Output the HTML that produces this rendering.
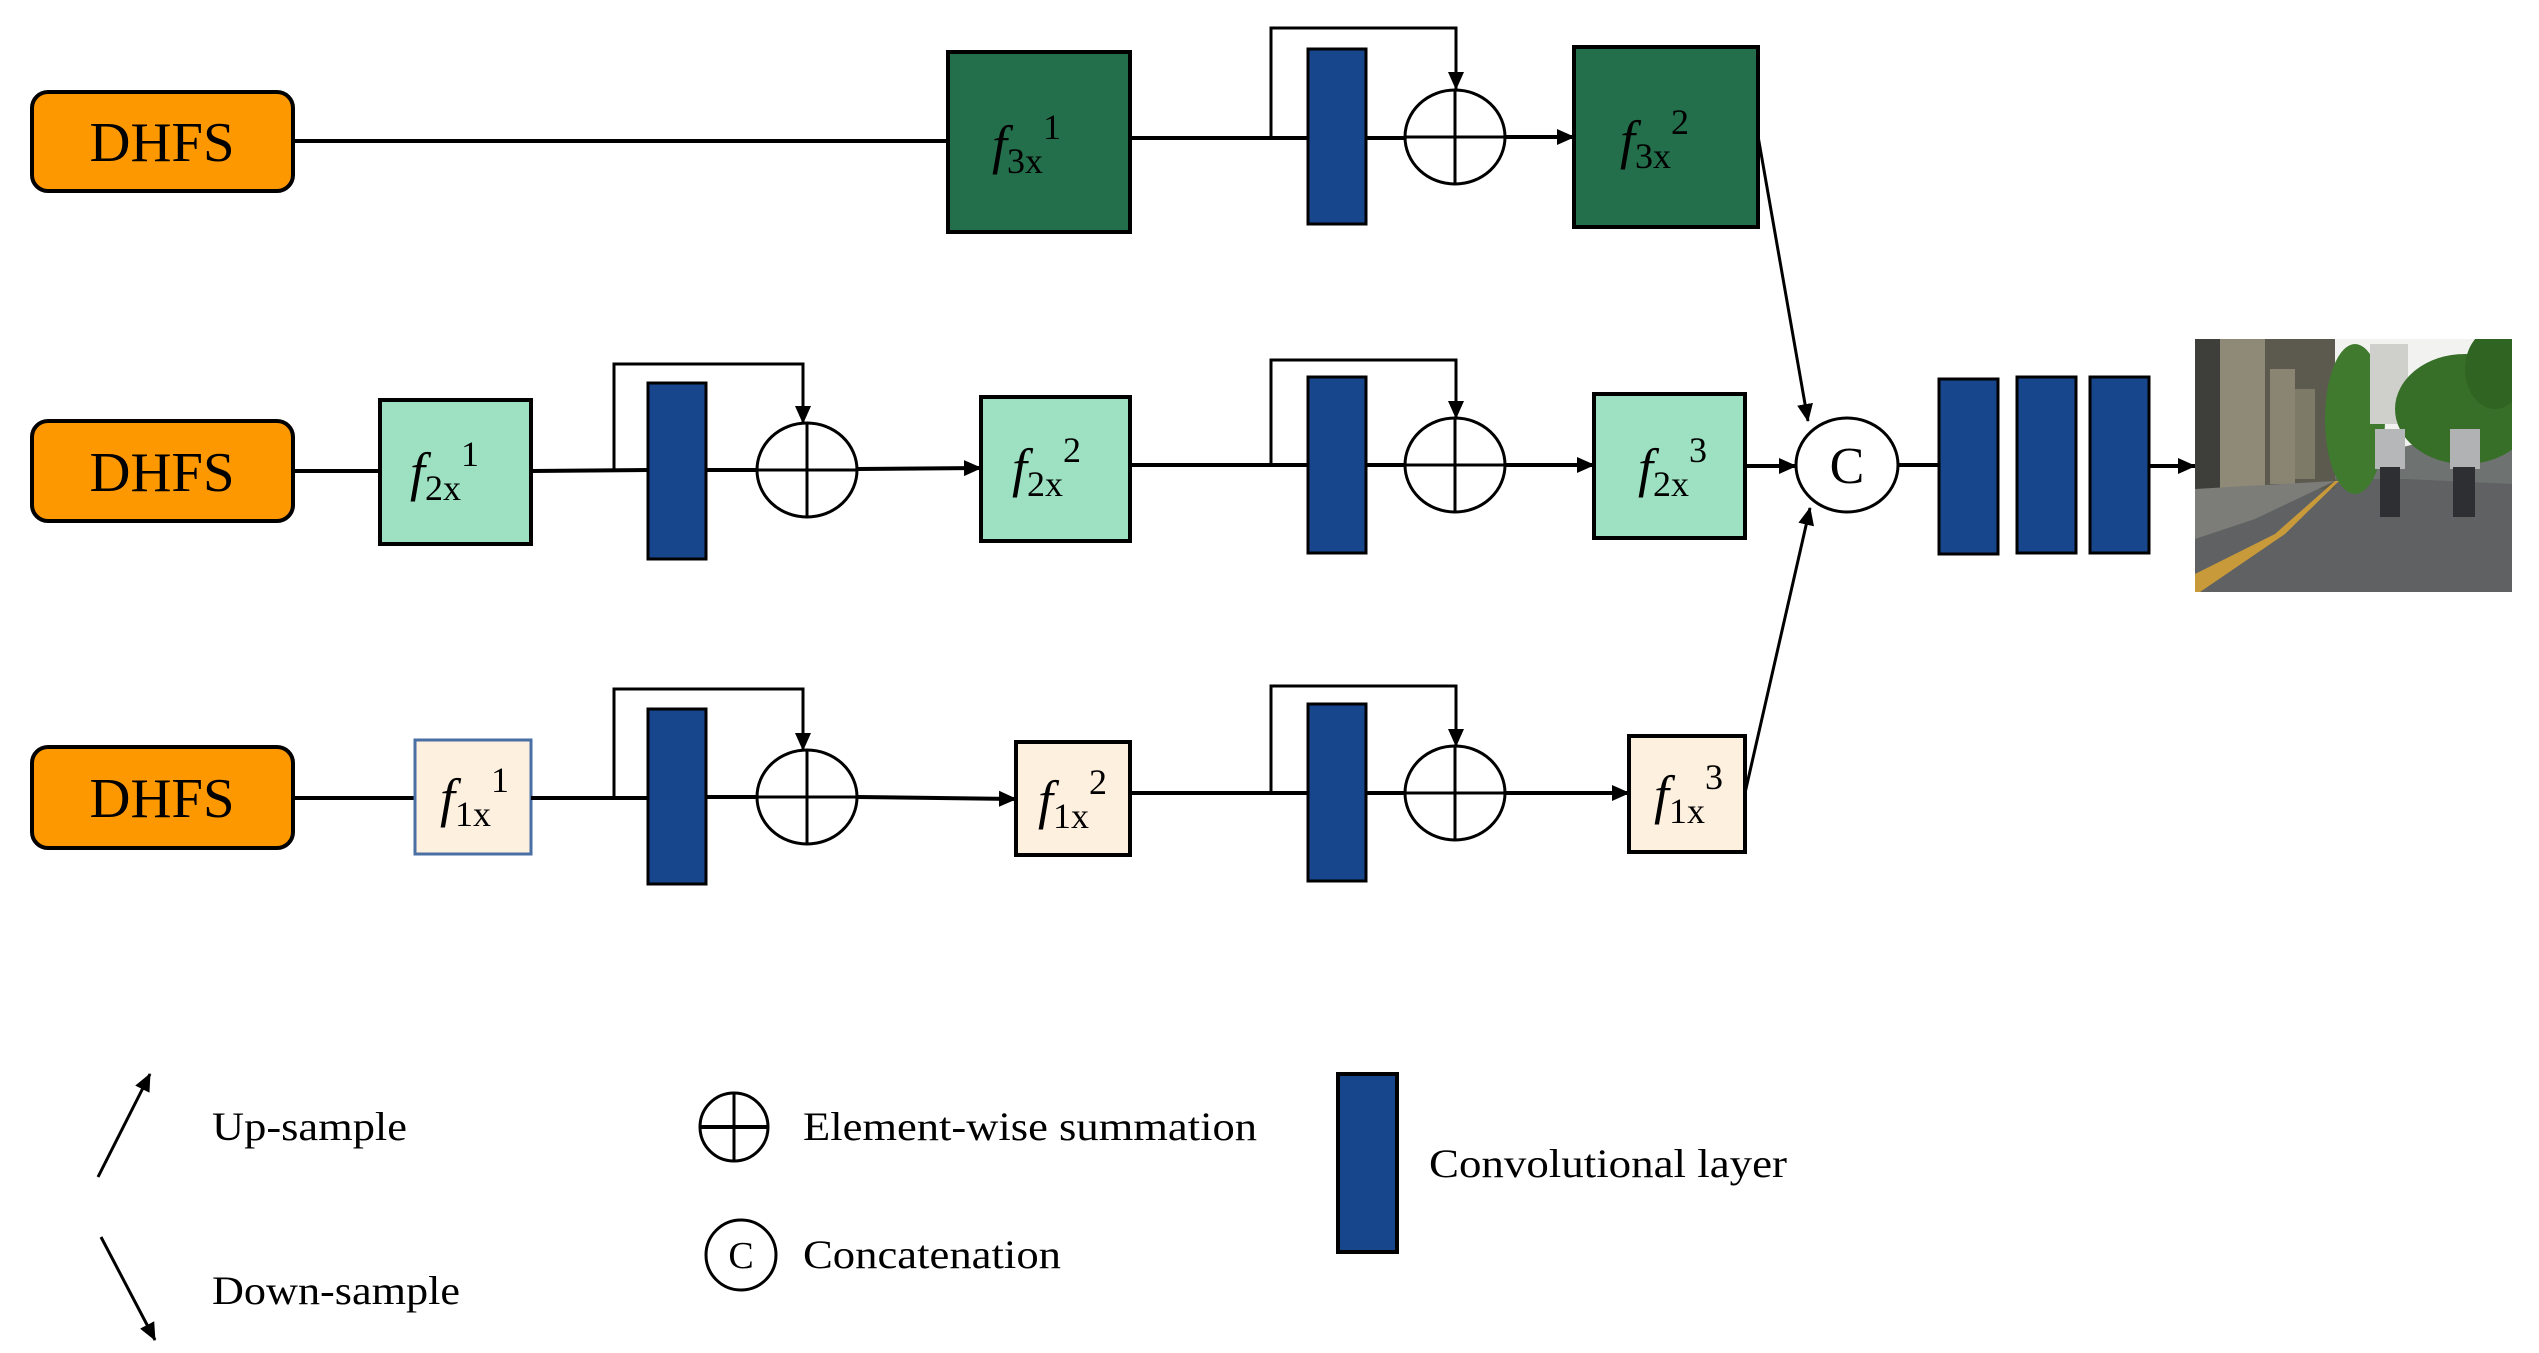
<!DOCTYPE html>
<html><head><meta charset="utf-8"><style>
html,body{margin:0;padding:0;background:#fff;}
svg{display:block;}
text{font-family:"Liberation Serif","Times New Roman",serif;fill:#000;}
</style></head><body>
<svg width="2539" height="1353" viewBox="0 0 2539 1353" xmlns="http://www.w3.org/2000/svg" font-family="Liberation Serif, serif">
<defs>
<marker id="ab" markerWidth="18" markerHeight="18" refX="17" refY="9" orient="auto" markerUnits="userSpaceOnUse" viewBox="0 0 18 18">
<path d="M0,1 L18,9 L0,17 z" fill="#000"/></marker>
</defs>
<g stroke="#000" stroke-width="4" fill="none">
<rect x="32" y="92" width="261" height="99" rx="16" fill="#fd9800"/>
<rect x="32" y="421" width="261" height="100" rx="16" fill="#fd9800"/>
<rect x="32" y="747" width="261" height="101" rx="16" fill="#fd9800"/>

<line x1="293" y1="141" x2="948" y2="141"/>
<rect x="948" y="52" width="182" height="180" fill="#236e4b"/>
<line x1="1130" y1="138" x2="1308" y2="138"/>
<polyline points="1271,138 1271,28 1456,28 1456,89" marker-end="url(#ab)" stroke-width="3"/>
<rect x="1308" y="49" width="58" height="175" fill="#17468c" stroke-width="3"/>
<line x1="1366" y1="138" x2="1405" y2="138"/>
<ellipse cx="1455" cy="137" rx="50" ry="47" fill="#fff" stroke-width="3"/>
<line x1="1405" y1="137" x2="1505" y2="137" stroke-width="3"/>
<line x1="1455" y1="90" x2="1455" y2="184" stroke-width="3"/>
<line x1="1505" y1="137" x2="1574" y2="137" marker-end="url(#ab)"/>
<rect x="1574" y="47" width="184" height="180" fill="#236e4b"/>

<line x1="293" y1="471" x2="380" y2="471"/>
<rect x="380" y="400" width="151" height="144" fill="#9de0c2"/>
<line x1="531" y1="471" x2="648" y2="470"/>
<polyline points="614,470 614,364 803,364 803,423" marker-end="url(#ab)" stroke-width="3"/>
<rect x="648" y="383" width="58" height="176" fill="#17468c" stroke-width="3"/>
<line x1="706" y1="470" x2="757" y2="470"/>
<ellipse cx="807" cy="470" rx="50" ry="47" fill="#fff" stroke-width="3"/>
<line x1="757" y1="470" x2="857" y2="470" stroke-width="3"/>
<line x1="807" y1="423" x2="807" y2="517" stroke-width="3"/>
<line x1="857" y1="469" x2="981" y2="468" marker-end="url(#ab)"/>
<rect x="981" y="397" width="149" height="144" fill="#9de0c2"/>
<line x1="1130" y1="465" x2="1308" y2="465"/>
<polyline points="1271,465 1271,360 1456,360 1456,418" marker-end="url(#ab)" stroke-width="3"/>
<rect x="1308" y="377" width="58" height="176" fill="#17468c" stroke-width="3"/>
<line x1="1366" y1="465" x2="1405" y2="465"/>
<ellipse cx="1455" cy="465" rx="50" ry="47" fill="#fff" stroke-width="3"/>
<line x1="1405" y1="465" x2="1505" y2="465" stroke-width="3"/>
<line x1="1455" y1="418" x2="1455" y2="511" stroke-width="3"/>
<line x1="1505" y1="465" x2="1594" y2="465" marker-end="url(#ab)"/>
<rect x="1594" y="394" width="151" height="144" fill="#9de0c2"/>
<line x1="1745" y1="466" x2="1796" y2="466" marker-end="url(#ab)"/>

<line x1="293" y1="798" x2="415" y2="798"/>
<rect x="415" y="740" width="116" height="114" fill="#fdf0df" stroke="#4a6fa5" stroke-width="3"/>
<line x1="531" y1="798" x2="648" y2="798"/>
<polyline points="614,798 614,689 803,689 803,750" marker-end="url(#ab)" stroke-width="3"/>
<rect x="648" y="709" width="58" height="175" fill="#17468c" stroke-width="3"/>
<line x1="706" y1="797" x2="757" y2="797"/>
<ellipse cx="807" cy="797" rx="50" ry="47" fill="#fff" stroke-width="3"/>
<line x1="757" y1="797" x2="857" y2="797" stroke-width="3"/>
<line x1="807" y1="750" x2="807" y2="844" stroke-width="3"/>
<line x1="857" y1="797" x2="1016" y2="799" marker-end="url(#ab)"/>
<rect x="1016" y="742" width="114" height="113" fill="#fdf0df"/>
<line x1="1130" y1="793" x2="1308" y2="793"/>
<polyline points="1271,793 1271,686 1456,686 1456,746" marker-end="url(#ab)" stroke-width="3"/>
<rect x="1308" y="704" width="58" height="177" fill="#17468c" stroke-width="3"/>
<line x1="1366" y1="793" x2="1405" y2="793"/>
<ellipse cx="1455" cy="793" rx="50" ry="47" fill="#fff" stroke-width="3"/>
<line x1="1405" y1="793" x2="1505" y2="793" stroke-width="3"/>
<line x1="1455" y1="746" x2="1455" y2="839" stroke-width="3"/>
<line x1="1505" y1="793" x2="1629" y2="793" marker-end="url(#ab)"/>
<rect x="1629" y="736" width="116" height="116" fill="#fdf0df"/>

<line x1="1758" y1="136" x2="1808" y2="421" marker-end="url(#ab)" stroke-width="3"/>
<line x1="1745" y1="793" x2="1810" y2="508" marker-end="url(#ab)" stroke-width="3"/>
<ellipse cx="1847" cy="465" rx="51" ry="47" fill="#fff" stroke-width="3"/>
<line x1="1898" y1="465" x2="1939" y2="465"/>
<rect x="1939" y="379" width="59" height="175" fill="#17468c" stroke-width="3"/>
<rect x="2017" y="377" width="59" height="176" fill="#17468c" stroke-width="3"/>
<rect x="2090" y="377" width="59" height="176" fill="#17468c" stroke-width="3"/>
<line x1="2149" y1="466" x2="2195" y2="466" marker-end="url(#ab)"/>

<line x1="98" y1="1177" x2="150" y2="1074" marker-end="url(#ab)" stroke-width="3"/>
<line x1="101" y1="1237" x2="155" y2="1340" marker-end="url(#ab)" stroke-width="3"/>
<circle cx="734" cy="1127" r="34" fill="#fff" stroke-width="3"/>
<line x1="700" y1="1127" x2="768" y2="1127" stroke-width="4"/>
<line x1="734" y1="1093" x2="734" y2="1161" stroke-width="3"/>
<circle cx="741" cy="1255" r="35" fill="#fff" stroke-width="3"/>
<rect x="1338" y="1074" width="59" height="178" fill="#17468c" stroke-width="4"/>
</g>

<g font-size="56" text-anchor="middle">
<text x="162" y="161" textLength="145" lengthAdjust="spacingAndGlyphs">DHFS</text>
<text x="162" y="491" textLength="145" lengthAdjust="spacingAndGlyphs">DHFS</text>
<text x="162" y="817" textLength="145" lengthAdjust="spacingAndGlyphs">DHFS</text>
</g>
<g font-size="54">
<text x="992" y="163"><tspan font-style="italic">f</tspan><tspan font-size="36" dy="10">3x</tspan><tspan font-size="36" dy="-34">1</tspan></text>
<text x="1620" y="158"><tspan font-style="italic">f</tspan><tspan font-size="36" dy="10">3x</tspan><tspan font-size="36" dy="-34">2</tspan></text>
<text x="410" y="490"><tspan font-style="italic">f</tspan><tspan font-size="36" dy="10">2x</tspan><tspan font-size="36" dy="-34">1</tspan></text>
<text x="1012" y="486"><tspan font-style="italic">f</tspan><tspan font-size="36" dy="10">2x</tspan><tspan font-size="36" dy="-34">2</tspan></text>
<text x="1638" y="486"><tspan font-style="italic">f</tspan><tspan font-size="36" dy="10">2x</tspan><tspan font-size="36" dy="-34">3</tspan></text>
<text x="440" y="816"><tspan font-style="italic">f</tspan><tspan font-size="36" dy="10">1x</tspan><tspan font-size="36" dy="-34">1</tspan></text>
<text x="1038" y="818"><tspan font-style="italic">f</tspan><tspan font-size="36" dy="10">1x</tspan><tspan font-size="36" dy="-34">2</tspan></text>
<text x="1654" y="813"><tspan font-style="italic">f</tspan><tspan font-size="36" dy="10">1x</tspan><tspan font-size="36" dy="-34">3</tspan></text>
</g>
<text x="1847" y="483" font-size="52" text-anchor="middle">C</text>
<text x="741" y="1268" font-size="38" text-anchor="middle">C</text>
<g font-size="40">
<text x="212" y="1140" textLength="195" lengthAdjust="spacingAndGlyphs">Up-sample</text>
<text x="212" y="1304" textLength="248" lengthAdjust="spacingAndGlyphs">Down-sample</text>
<text x="803" y="1140" textLength="454" lengthAdjust="spacingAndGlyphs">Element-wise summation</text>
<text x="803" y="1268" textLength="258" lengthAdjust="spacingAndGlyphs">Concatenation</text>
<text x="1429" y="1177" textLength="358" lengthAdjust="spacingAndGlyphs">Convolutional layer</text>
</g>

<g transform="translate(2195,339)">
<defs><clipPath id="cp"><rect width="317" height="253"/></clipPath></defs>
<g clip-path="url(#cp)">
<rect width="317" height="253" fill="#f2f3f0"/>
<polygon points="0,140 317,140 317,253 0,253" fill="#5f6163"/>
<polygon points="130,120 200,110 260,95 317,110 317,145 210,140 140,140" fill="#6e7270"/>
<rect x="0" y="0" width="140" height="150" fill="#5c5a4e"/>
<rect x="25" y="0" width="45" height="150" fill="#8f8a77"/>
<rect x="75" y="30" width="25" height="115" fill="#8a8573"/>
<rect x="100" y="50" width="20" height="90" fill="#7d7a68"/>
<rect x="0" y="0" width="25" height="150" fill="#3e3f3b"/>
<polygon points="0,150 140,142 60,180 0,200" fill="#7c7d78"/>
<ellipse cx="160" cy="80" rx="30" ry="75" fill="#3f7a2e"/>
<rect x="175" y="5" width="38" height="80" fill="#cfd0cc"/>
<ellipse cx="270" cy="70" rx="70" ry="55" fill="#386f28"/>
<ellipse cx="300" cy="30" rx="30" ry="40" fill="#2f6422"/>
<polygon points="0,235 80,195 140,142 144,142 90,195 5,253 0,253" fill="#c99a3a"/>
<rect x="180" y="90" width="30" height="40" fill="#b5b7b8"/>
<rect x="185" y="128" width="20" height="50" fill="#2d2f33"/>
<rect x="255" y="90" width="30" height="40" fill="#b0b2b3"/>
<rect x="258" y="128" width="22" height="50" fill="#2d2f33"/>
</g>
</g>
</svg>
</body></html>
